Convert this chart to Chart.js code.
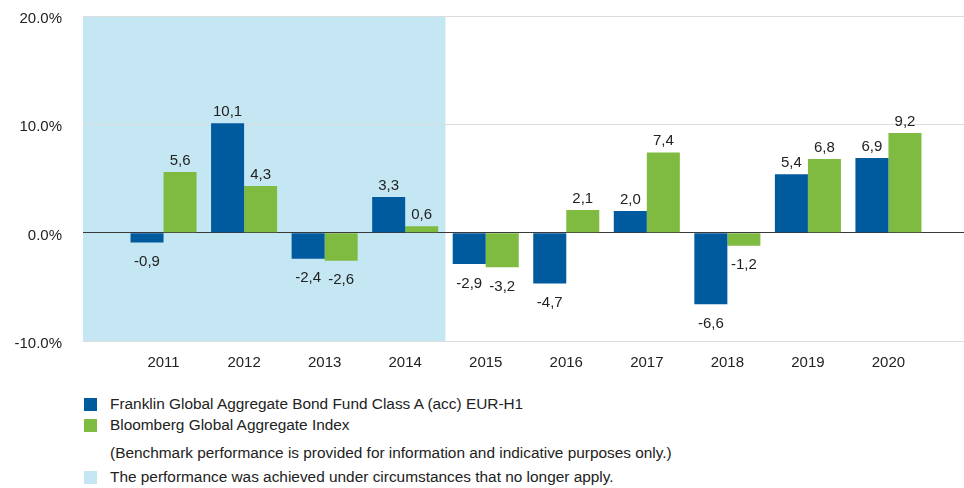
<!DOCTYPE html>
<html>
<head>
<meta charset="utf-8">
<script src="https://cdn.jsdelivr.net/npm/chart.js@4/dist/chart.umd.min.js"></script>
<style>
  body { margin: 0; overflow: hidden; background: #fff; font-family: 'Liberation Sans', Arial, sans-serif; color: #222; }
  #wrap { position: relative; width: 982px; height: 386px; }
  .row { position: absolute; left: 84px; height: 18px; line-height: 18px; font-size: 15.4px; white-space: nowrap; }
  .sq { position: absolute; left: 0; top: 3px; width: 13px; height: 13px; }
  .txt { position: absolute; left: 26px; top: 0; }
</style>
</head>
<body>
<div id="wrap"><canvas id="chart"></canvas></div>
<div id="legend"></div>
<script>
const years = ['2011', '2012', '2013', '2014', '2015', '2016', '2017', '2018', '2019', '2020']
const fundReturns = [-0.9, 10.1, -2.4, 3.3, -2.9, -4.7, 2.0, -6.6, 5.4, 6.9]
const indexReturns = [5.6, 4.3, -2.6, 0.6, -3.2, 2.1, 7.4, -1.2, 6.8, 9.2]
const yTicks = [-10, 0, 10, 20]
const shadedYears = ['2011', '2012', '2013', '2014']

const fundName = 'Franklin Global Aggregate Bond Fund Class A (acc) EUR-H1'
const indexName = 'Bloomberg Global Aggregate Index'
const benchmarkNote = '(Benchmark performance is provided for information and indicative purposes only.)'
const shadedNote = 'The performance was achieved under circumstances that no longer apply.'

const blue = '#005a9e'
const green = '#7fbb41'
const lightBlue = '#c5e7f3'
const textColor = '#222'

// blank slot either side so the axis runs past the first and last year
const labels = [''].concat(years, [''])
const pad = (arr) => [null].concat(arr, [null])

const shadePlugin = {
  id: 'shade',
  beforeDraw(chart) {
    const x = chart.scales.x
    const area = chart.chartArea
    const lastIdx = labels.indexOf(shadedYears[shadedYears.length - 1])
    const right = x.getPixelForValue(lastIdx + 0.5)
    const ctx = chart.ctx
    ctx.save()
    ctx.fillStyle = lightBlue
    ctx.fillRect(area.left, area.top, right - area.left, area.bottom - area.top)
    ctx.restore()
  }
}

const valueLabels = {
  id: 'valueLabels',
  afterDatasetsDraw(chart) {
    const ctx = chart.ctx
    ctx.save()
    ctx.font = '15px "Liberation Sans", Arial, sans-serif'
    ctx.fillStyle = textColor
    ctx.textAlign = 'center'
    chart.data.datasets.forEach((ds, i) => {
      chart.getDatasetMeta(i).data.forEach((bar, j) => {
        const v = ds.data[j]
        if (v === null) return
        const txt = v.toFixed(1).replace('.', ',')
        if (v >= 0) {
          ctx.textBaseline = 'bottom'
          ctx.fillText(txt, bar.x, bar.y - 4)
        } else {
          ctx.textBaseline = 'top'
          ctx.fillText(txt, bar.x, bar.y + 12)
        }
      })
    })
    ctx.restore()
  }
}

new Chart(document.getElementById('chart'), {
  type: 'bar',
  data: {
    labels: labels,
    datasets: [
      { label: fundName, data: pad(fundReturns), backgroundColor: blue },
      { label: indexName, data: pad(indexReturns), backgroundColor: green }
    ]
  },
  options: {
    responsive: true,
    maintainAspectRatio: false,
    animation: false,
    categoryPercentage: 0.82,
    barPercentage: 1.0,
    layout: { padding: { top: 16, bottom: 14, left: 0, right: 0 } },
    plugins: {
      legend: { display: false },
      tooltip: { enabled: false }
    },
    scales: {
      x: {
        offset: false,
        afterFit(scale) {
          scale.height = 31
        },
        grid: { display: false, drawTicks: false },
        border: { display: false },
        ticks: {
          autoSkip: false,
          maxRotation: 0,
          padding: 13,
          color: textColor,
          font: { family: '"Liberation Sans", Arial, sans-serif', size: 15 }
        }
      },
      y: {
        min: yTicks[0],
        max: yTicks[yTicks.length - 1],
        afterBuildTicks(scale) {
          scale.ticks = yTicks.map((v) => ({ value: v }))
        },
        afterFit(scale) {
          scale.width = 83
          scale.paddingTop = 0
          scale.paddingBottom = 0
        },
        grid: {
          drawTicks: false,
          color: (c) => (c.tick && c.tick.value === 0 ? '#3a3a3a' : '#dcdcdc'),
          lineWidth: 1
        },
        border: { display: false },
        ticks: {
          padding: 21,
          labelOffset: 3,
          color: textColor,
          font: { family: '"Liberation Sans", Arial, sans-serif', size: 15 },
          callback: (v) => v.toFixed(1) + '%'
        }
      }
    }
  },
  plugins: [shadePlugin, valueLabels]
})

const legendRows = [
  { color: blue, text: fundName, center: 404 },
  { color: green, text: indexName, center: 425 },
  { color: null, text: benchmarkNote, center: 453 },
  { color: lightBlue, text: shadedNote, center: 477 }
]
document.getElementById('legend').innerHTML = legendRows.map((r) => [
  `<div class="row" style="top:${r.center - 9}px;">`,
    r.color ? `<span class="sq" style="background:${r.color};"></span>` : '',
    `<span class="txt">${r.text}</span>`,
  '</div>'
].join('')).join('')
</script>
</body>
</html>
